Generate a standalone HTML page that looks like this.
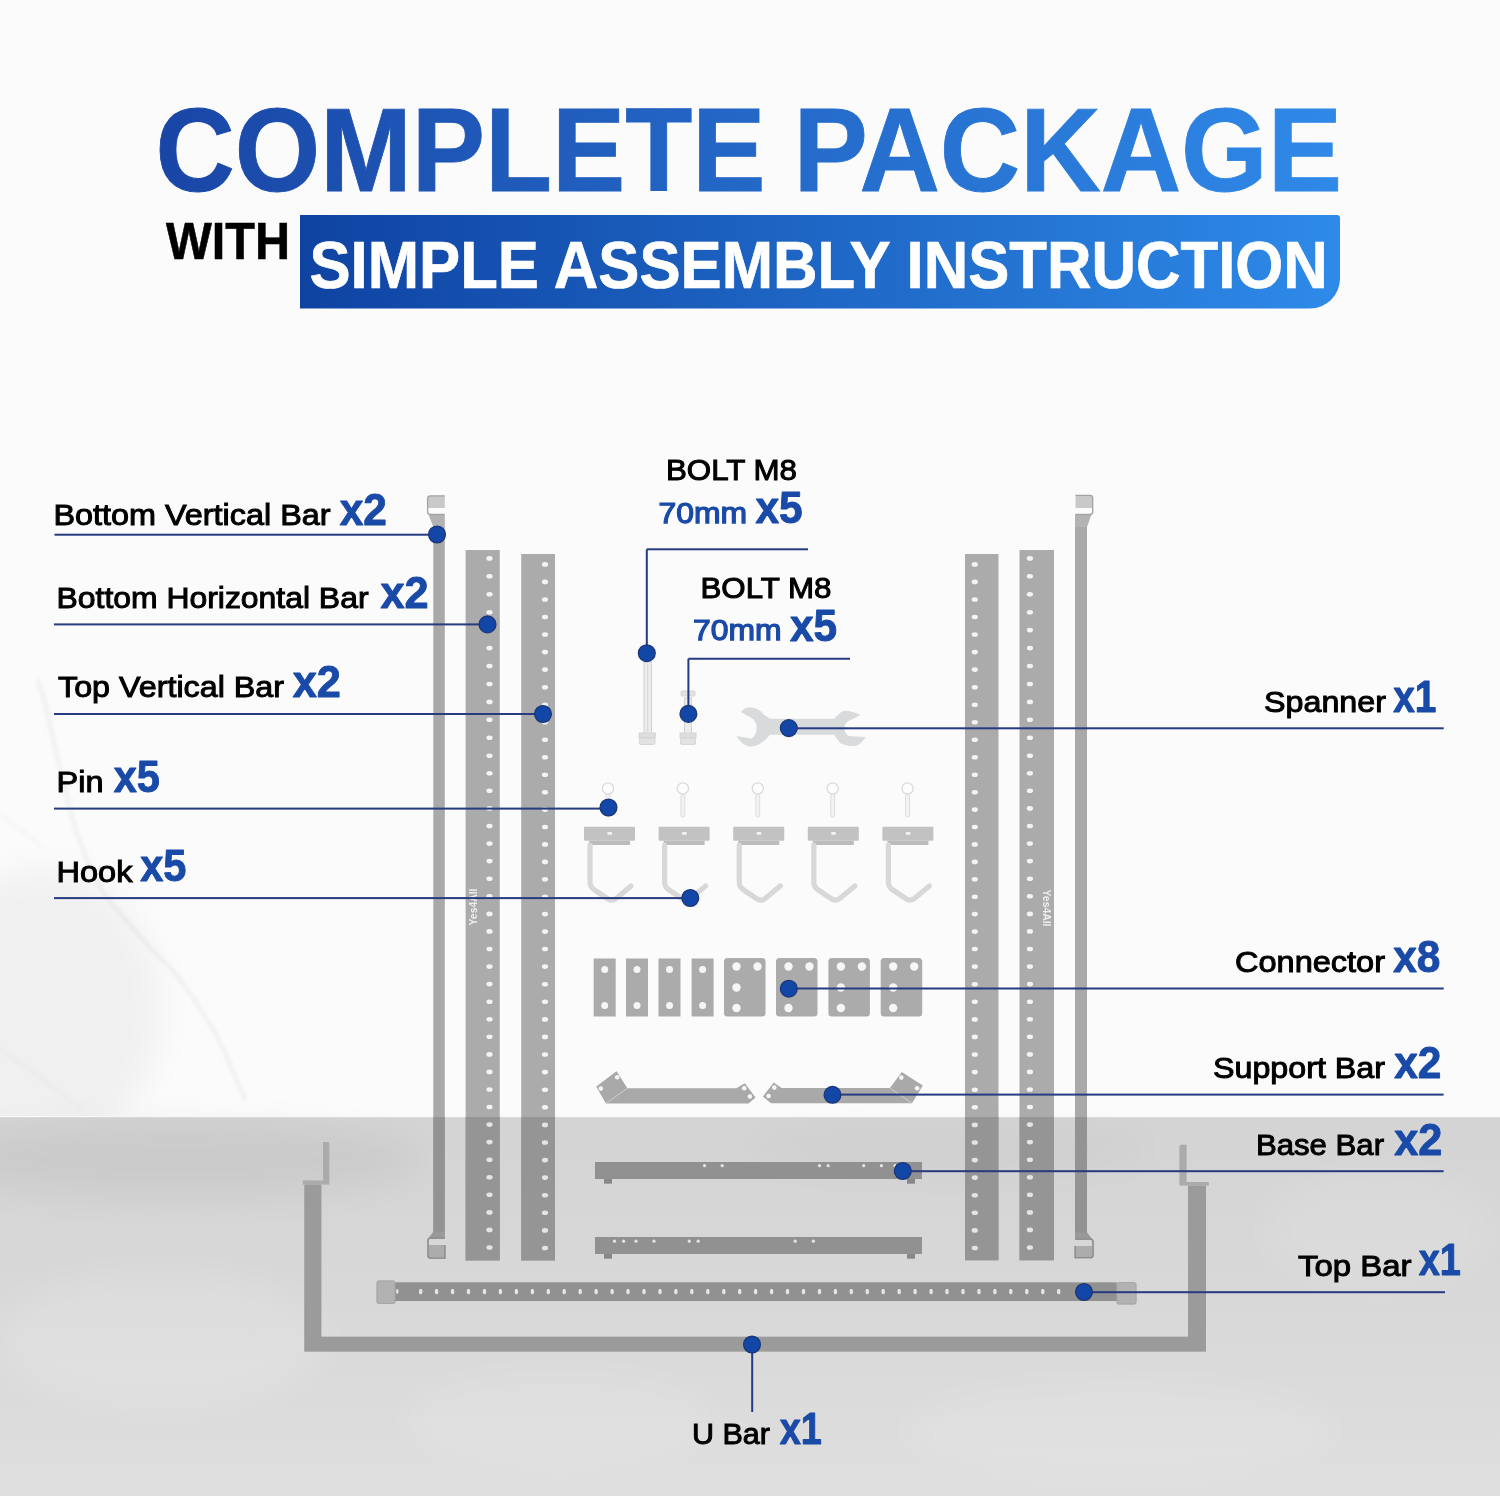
<!DOCTYPE html>
<html><head><meta charset="utf-8"><title>Complete Package</title>
<style>html,body{margin:0;padding:0;background:#fbfbfb;overflow:hidden;}svg{display:block;}text{font-family:"Liberation Sans",sans-serif;}</style>
</head><body>
<svg width="1500" height="1496" viewBox="0 0 1500 1496">
<defs>
<linearGradient id="tg" x1="158" y1="0" x2="1338" y2="0" gradientUnits="userSpaceOnUse">
<stop offset="0" stop-color="#1946a6"/><stop offset="1" stop-color="#2f89e8"/></linearGradient>
<linearGradient id="bg" x1="300" y1="0" x2="1340" y2="0" gradientUnits="userSpaceOnUse">
<stop offset="0" stop-color="#0f43a2"/><stop offset="1" stop-color="#2e8ae8"/></linearGradient>
<radialGradient id="vig" cx="0.25" cy="0.6" r="0.75"><stop offset="0" stop-color="#000" stop-opacity="0.035"/><stop offset="1" stop-color="#000" stop-opacity="0"/></radialGradient>
<linearGradient id="bandg" x1="0" y1="1117" x2="0" y2="1496" gradientUnits="userSpaceOnUse"><stop offset="0" stop-color="#d4d4d4"/><stop offset="0.5" stop-color="#d8d8d8"/><stop offset="1" stop-color="#dfdfdf"/></linearGradient>
<clipPath id="bandclip"><rect x="0" y="1117" width="1500" height="379"/></clipPath>
<filter id="darken" color-interpolation-filters="sRGB"><feColorMatrix type="matrix" values="0.87 0 0 0 0 0 0.87 0 0 0 0 0 0.87 0 0 0 0 0 1 0"/></filter>
<filter id="blurL" x="-50%" y="-50%" width="200%" height="200%"><feGaussianBlur stdDeviation="16"/></filter>
<filter id="blurS" x="-50%" y="-50%" width="200%" height="200%"><feGaussianBlur stdDeviation="2.2"/></filter>
</defs>
<rect x="0" y="0" width="1500" height="1117" fill="#fbfbfb"/>
<g filter="url(#blurL)" fill="#000"><ellipse cx="40" cy="1010" rx="120" ry="140" opacity="0.045"/></g>
<g filter="url(#blurS)" stroke="#000" fill="none" stroke-linecap="round"><path d="M38 680 C45 700 47 710 49 720 C60 770 70 810 76 830 C90 870 100 890 110 902 C135 930 150 950 170 967 C190 990 200 1010 212 1027 C225 1050 235 1075 245 1100" stroke-width="2.2" opacity="0.085"/><path d="M0 815 C15 825 30 835 40 846" stroke-width="1.8" opacity="0.05"/><path d="M0 1050 C30 1070 60 1090 80 1110" stroke-width="1.8" opacity="0.04"/></g>
<text x="155.6" y="191" font-family="Liberation Sans" font-weight="bold" font-size="118.6" fill="url(#tg)" stroke="url(#tg)" stroke-width="0.9" textLength="609.8" lengthAdjust="spacingAndGlyphs">COMPLETE</text>
<text x="793.4" y="191" font-family="Liberation Sans" font-weight="bold" font-size="118.6" fill="url(#tg)" stroke="url(#tg)" stroke-width="0.9" textLength="548.6" lengthAdjust="spacingAndGlyphs">PACKAGE</text>
<text x="166" y="259" font-family="Liberation Sans" font-weight="bold" font-size="52.5" fill="#000" stroke="#000" stroke-width="0.6" textLength="124" lengthAdjust="spacingAndGlyphs">WITH</text>
<path d="M300 215 H1337 Q1340 215 1340 218 V278.5 A30 30 0 0 1 1310 308.5 H300 Z" fill="url(#bg)"/>
<text x="309.5" y="287.7" font-family="Liberation Sans" font-weight="bold" font-size="66.6" fill="#fff" stroke="#fff" stroke-width="0.7" textLength="1018.3" lengthAdjust="spacingAndGlyphs">SIMPLE ASSEMBLY INSTRUCTION</text>
<rect x="0" y="1117" width="1500" height="379" fill="url(#bandg)"/>
<rect x="0" y="1115.8" width="1500" height="1.4" fill="#fbfbfb"/>
<g filter="url(#blurL)"><ellipse cx="180" cy="1160" rx="240" ry="38" fill="#000" opacity="0.045"/><ellipse cx="950" cy="1150" rx="200" ry="25" fill="#000" opacity="0.02"/><ellipse cx="160" cy="1340" rx="170" ry="70" fill="#fff" opacity="0.14"/><ellipse cx="560" cy="1420" rx="160" ry="50" fill="#fff" opacity="0.10"/><ellipse cx="1120" cy="1430" rx="220" ry="50" fill="#fff" opacity="0.10"/><ellipse cx="1380" cy="1230" rx="120" ry="60" fill="#fff" opacity="0.10"/></g>
<rect x="0" y="1117" width="1500" height="379" fill="none"/>
<g id="parts">
<rect x="465.6" y="550" width="34.19999999999999" height="710.5" fill="#ababab"/>
<rect x="521.2" y="554" width="33.799999999999955" height="706.5" fill="#ababab"/>
<rect x="965" y="554" width="33.5" height="706.3" fill="#ababab"/>
<rect x="1019.5" y="550" width="34.5" height="710.3" fill="#ababab"/>
<text transform="translate(476.7 907) rotate(-90)" x="-18.5" y="0" font-family="Liberation Sans" font-weight="bold" font-size="11" fill="#eeeeee" textLength="37" lengthAdjust="spacingAndGlyphs">Yes4All</text>
<text transform="translate(1042.8 908) rotate(90)" x="-18.5" y="0" font-family="Liberation Sans" font-weight="bold" font-size="11" fill="#eeeeee" textLength="37" lengthAdjust="spacingAndGlyphs">Yes4All</text>
<rect x="433.3" y="526" width="11.5" height="706" fill="#a9a9a9"/>
<rect x="1075" y="526" width="12" height="707" fill="#a9a9a9"/>
<path d="M428.5 514.5 H444.8 V527 H433.3 Z" fill="#b3b3b3"/>
<rect x="428" y="496" width="16.8" height="12" fill="#c9c9c9"/>
<path d="M444.8 495.8 H430.3 Q427.6 495.8 427.6 498.5 V511.8 Q427.6 514.5 430.3 514.5 H444.5" fill="none" stroke="#a3a3a3" stroke-width="1.3"/>
<path d="M1091.5 514.5 H1075 V527 H1087 Z" fill="#b3b3b3"/>
<rect x="1075.5" y="495.5" width="17" height="12.5" fill="#c9c9c9"/>
<path d="M1075.5 495.3 H1090 Q1092.7 495.3 1092.7 498 V511.8 Q1092.7 514.5 1090 514.5 H1075.5" fill="none" stroke="#a3a3a3" stroke-width="1.3"/>
<path d="M433.7 1231.5 H444.9 V1238 H428.5 Z" fill="#b0b0b0"/>
<rect x="428.5" y="1245" width="16.4" height="12.5" fill="#c6c6c6"/>
<path d="M444.9 1238.2 H430.5 Q428 1238.2 428 1240.7 V1255.5 Q428 1258.2 430.7 1258.2 H444.9 V1245" fill="none" stroke="#a0a0a0" stroke-width="1.3"/>
<path d="M1087 1232.5 H1075 V1239 H1092 Z" fill="#b0b0b0"/>
<rect x="1075.2" y="1246" width="17.5" height="11.5" fill="#c6c6c6"/>
<path d="M1075.2 1239.2 H1090.3 Q1093 1239.2 1093 1241.9 V1255 Q1093 1257.7 1090.3 1257.7 H1075.2 V1246" fill="none" stroke="#a0a0a0" stroke-width="1.3"/>
<rect x="644" y="662" width="7.5" height="72" fill="#ececec" stroke="#d2d2d2" stroke-width="1"/>
<line x1="647.7" y1="664" x2="647.7" y2="732" stroke="#d6d6d6" stroke-width="1"/>
<rect x="639" y="733" width="16.5" height="5" fill="#dedede" stroke="#d0d0d0" stroke-width="0.8"/>
<rect x="639.5" y="738" width="15.5" height="6.5" rx="1.5" fill="#e2e2e2" stroke="#d0d0d0" stroke-width="0.8"/>
<rect x="684.5" y="698" width="7" height="36" fill="#ececec" stroke="#d2d2d2" stroke-width="1"/>
<rect x="681" y="691" width="14" height="5" rx="1" fill="#e2e2e2" stroke="#d0d0d0" stroke-width="0.8"/>
<rect x="680" y="733" width="16" height="5" fill="#dedede" stroke="#d0d0d0" stroke-width="0.8"/>
<rect x="680.5" y="738" width="15" height="6.5" rx="1.5" fill="#e2e2e2" stroke="#d0d0d0" stroke-width="0.8"/>
<path d="M740.8 711.9 C744 708 748 707 752 707.6 C757 708 761 711 763 714 L770 718.8 H834 L840 713 C842 711.5 844 711 846 710.8 C851 711 856 713 860.8 715 L848.5 721 C843 724 843 732 848.5 736 L865.6 737 C862 743 858 746 854.4 746 C849 746.5 844 745 840.5 743.3 L834 734.8 H770 C766 740 760 745 752 746.5 C746 747 740 742 736.5 735.9 L751.5 738.5 C758.5 734 758.5 722 751.5 718 Z" fill="#d9dadc"/>
<circle cx="608.0" cy="788.5" r="5.6" fill="#fdfdfd" stroke="#d9d9d9" stroke-width="1.2"/>
<rect x="606.1" y="794.5" width="3.8" height="22.5" rx="1.5" fill="#f3f3f3" stroke="#d9d9d9" stroke-width="0.9"/>
<rect x="584.0" y="826.7" width="51" height="14" rx="1" fill="#c2c2c2"/>
<rect x="607.5" y="832" width="4.5" height="2.8" fill="#f2f2f2"/>
<rect x="589.0" y="840.7" width="41" height="4.3" fill="#bcbcbc"/>
<path d="M590.0 845 V882 Q590.0 887 594.5 890 L608.0 899 Q612.0 901.5 616.0 898.5 L631.0 886" fill="none" stroke="#d8d8d8" stroke-width="5.2" stroke-linejoin="round" stroke-linecap="round"/>
<circle cx="682.9" cy="788.5" r="5.6" fill="#fdfdfd" stroke="#d9d9d9" stroke-width="1.2"/>
<rect x="681.0" y="794.5" width="3.8" height="22.5" rx="1.5" fill="#f3f3f3" stroke="#d9d9d9" stroke-width="0.9"/>
<rect x="658.6" y="826.7" width="51" height="14" rx="1" fill="#c2c2c2"/>
<rect x="682.1" y="832" width="4.5" height="2.8" fill="#f2f2f2"/>
<rect x="663.6" y="840.7" width="41" height="4.3" fill="#bcbcbc"/>
<path d="M664.6 845 V882 Q664.6 887 669.1 890 L682.6 899 Q686.6 901.5 690.6 898.5 L705.6 886" fill="none" stroke="#d8d8d8" stroke-width="5.2" stroke-linejoin="round" stroke-linecap="round"/>
<circle cx="757.8" cy="788.5" r="5.6" fill="#fdfdfd" stroke="#d9d9d9" stroke-width="1.2"/>
<rect x="755.9" y="794.5" width="3.8" height="22.5" rx="1.5" fill="#f3f3f3" stroke="#d9d9d9" stroke-width="0.9"/>
<rect x="733.2" y="826.7" width="51" height="14" rx="1" fill="#c2c2c2"/>
<rect x="756.7" y="832" width="4.5" height="2.8" fill="#f2f2f2"/>
<rect x="738.2" y="840.7" width="41" height="4.3" fill="#bcbcbc"/>
<path d="M739.2 845 V882 Q739.2 887 743.7 890 L757.2 899 Q761.2 901.5 765.2 898.5 L780.2 886" fill="none" stroke="#d8d8d8" stroke-width="5.2" stroke-linejoin="round" stroke-linecap="round"/>
<circle cx="832.7" cy="788.5" r="5.6" fill="#fdfdfd" stroke="#d9d9d9" stroke-width="1.2"/>
<rect x="830.8" y="794.5" width="3.8" height="22.5" rx="1.5" fill="#f3f3f3" stroke="#d9d9d9" stroke-width="0.9"/>
<rect x="807.8" y="826.7" width="51" height="14" rx="1" fill="#c2c2c2"/>
<rect x="831.3" y="832" width="4.5" height="2.8" fill="#f2f2f2"/>
<rect x="812.8" y="840.7" width="41" height="4.3" fill="#bcbcbc"/>
<path d="M813.8 845 V882 Q813.8 887 818.3 890 L831.8 899 Q835.8 901.5 839.8 898.5 L854.8 886" fill="none" stroke="#d8d8d8" stroke-width="5.2" stroke-linejoin="round" stroke-linecap="round"/>
<circle cx="907.6" cy="788.5" r="5.6" fill="#fdfdfd" stroke="#d9d9d9" stroke-width="1.2"/>
<rect x="905.7" y="794.5" width="3.8" height="22.5" rx="1.5" fill="#f3f3f3" stroke="#d9d9d9" stroke-width="0.9"/>
<rect x="882.4" y="826.7" width="51" height="14" rx="1" fill="#c2c2c2"/>
<rect x="905.9" y="832" width="4.5" height="2.8" fill="#f2f2f2"/>
<rect x="887.4" y="840.7" width="41" height="4.3" fill="#bcbcbc"/>
<path d="M888.4 845 V882 Q888.4 887 892.9 890 L906.4 899 Q910.4 901.5 914.4 898.5 L929.4 886" fill="none" stroke="#d8d8d8" stroke-width="5.2" stroke-linejoin="round" stroke-linecap="round"/>
<rect x="593.7" y="958.5" width="22" height="58" fill="#ababab"/>
<circle cx="604.7" cy="969.5" r="3.5" fill="#f6f6f6"/><circle cx="604.7" cy="1005.5" r="3.5" fill="#f6f6f6"/>
<rect x="626" y="958.5" width="22" height="58" fill="#ababab"/>
<circle cx="637" cy="969.5" r="3.5" fill="#f6f6f6"/><circle cx="637" cy="1005.5" r="3.5" fill="#f6f6f6"/>
<rect x="658.5" y="958.5" width="22" height="58" fill="#ababab"/>
<circle cx="669.5" cy="969.5" r="3.5" fill="#f6f6f6"/><circle cx="669.5" cy="1005.5" r="3.5" fill="#f6f6f6"/>
<rect x="691.6" y="958.5" width="22" height="58" fill="#ababab"/>
<circle cx="702.6" cy="969.5" r="3.5" fill="#f6f6f6"/><circle cx="702.6" cy="1005.5" r="3.5" fill="#f6f6f6"/>
<rect x="724" y="958" width="41.5" height="58.5" rx="3.5" fill="#ababab"/>
<circle cx="736.5" cy="966.5" r="4.2" fill="#f6f6f6"/>
<circle cx="757.5" cy="966.5" r="4.2" fill="#f6f6f6"/>
<circle cx="736.5" cy="987.5" r="4.2" fill="#f6f6f6"/>
<circle cx="736.5" cy="1008" r="4.2" fill="#f6f6f6"/>
<rect x="776" y="958" width="41.5" height="58.5" rx="3.5" fill="#ababab"/>
<circle cx="788.5" cy="966.5" r="4.2" fill="#f6f6f6"/>
<circle cx="809.5" cy="966.5" r="4.2" fill="#f6f6f6"/>
<circle cx="788.5" cy="987.5" r="4.2" fill="#f6f6f6"/>
<circle cx="788.5" cy="1008" r="4.2" fill="#f6f6f6"/>
<rect x="828.4" y="958" width="41.5" height="58.5" rx="3.5" fill="#ababab"/>
<circle cx="840.9" cy="966.5" r="4.2" fill="#f6f6f6"/>
<circle cx="861.9" cy="966.5" r="4.2" fill="#f6f6f6"/>
<circle cx="840.9" cy="987.5" r="4.2" fill="#f6f6f6"/>
<circle cx="840.9" cy="1008" r="4.2" fill="#f6f6f6"/>
<rect x="880.7" y="958" width="41.5" height="58.5" rx="3.5" fill="#ababab"/>
<circle cx="893.2" cy="966.5" r="4.2" fill="#f6f6f6"/>
<circle cx="914.2" cy="966.5" r="4.2" fill="#f6f6f6"/>
<circle cx="893.2" cy="987.5" r="4.2" fill="#f6f6f6"/>
<circle cx="893.2" cy="1008" r="4.2" fill="#f6f6f6"/>
<path d="M605.9 1103.4 L596.2 1086.6 L616.6 1071.3 L627.4 1088.3 H736.3 L744.8 1083.2 L755.5 1097.4 L748.7 1103.4 Z" fill="#a9a9a9"/>
<path d="M605.9 1103.4 L627.4 1088.3" stroke="#d0d0d0" stroke-width="1"/>
<circle cx="600.8" cy="1088.6" r="2.3" fill="#f6f6f6"/>
<circle cx="617.2" cy="1077.2" r="2.3" fill="#f6f6f6"/>
<circle cx="744.2" cy="1088.3" r="2.3" fill="#f6f6f6"/>
<circle cx="749.9" cy="1096.5" r="2.3" fill="#f6f6f6"/>
<path d="M770.9 1103.3 L762.9 1096.5 L773.7 1082.4 L781.6 1088.1 H889.9 L901.8 1071.9 L922.8 1085.5 L912 1103.3 Z" fill="#a9a9a9"/>
<path d="M889.9 1088.1 L912 1103.3" stroke="#d0d0d0" stroke-width="1"/>
<circle cx="774.3" cy="1087.6" r="2.3" fill="#f6f6f6"/>
<circle cx="768.6" cy="1096" r="2.3" fill="#f6f6f6"/>
<circle cx="901.3" cy="1077.6" r="2.3" fill="#f6f6f6"/>
<circle cx="917.1" cy="1088.3" r="2.3" fill="#f6f6f6"/>
<rect x="595" y="1162" width="327" height="17" fill="#a7a7a7"/>
<rect x="604" y="1179" width="8" height="4.5" fill="#9c9c9c"/><rect x="907" y="1179" width="8" height="4.5" fill="#9c9c9c"/>
<rect x="595" y="1237" width="327" height="17" fill="#a7a7a7"/>
<rect x="604" y="1254" width="8" height="4.5" fill="#9c9c9c"/><rect x="907" y="1254" width="8" height="4.5" fill="#9c9c9c"/>
<path d="M395 1282.5 H1116.7 V1301 H395 Z" fill="#a7a7a7"/>
<rect x="377" y="1281" width="18" height="22.4" rx="1.5" fill="#cdcdcd" stroke="#bdbdbd" stroke-width="1"/><rect x="1117" y="1282.7" width="19" height="21.3" rx="1.5" fill="#cdcdcd" stroke="#bdbdbd" stroke-width="1"/>
<path d="M304.4 1184.6 H321.3 V1336.8 H1188 V1185.5 H1206 V1351.5 H304.4 Z" fill="#b2b2b2"/>
<path d="M302.8 1184.6 H329.3 V1144 Q329.3 1142 327.3 1142 H323 V1180.6 H302.8 Z" fill="#c4c4c4"/>
<path d="M1208.8 1185.5 H1179.5 V1146.7 Q1179.5 1144.7 1181.5 1144.7 H1186.5 V1182 H1208.8 Z" fill="#c4c4c4"/>
</g>
<use href="#parts" clip-path="url(#bandclip)" filter="url(#darken)"/>
<g fill="#f4f4f4"><ellipse cx="489.5" cy="558.4" rx="3.1" ry="2.3"/><ellipse cx="489.5" cy="576.3" rx="3.1" ry="2.3"/><ellipse cx="489.5" cy="594.3" rx="3.1" ry="2.3"/><ellipse cx="489.5" cy="612.2" rx="3.1" ry="2.3"/><ellipse cx="489.5" cy="630.1" rx="3.1" ry="2.3"/><ellipse cx="489.5" cy="648.1" rx="3.1" ry="2.3"/><ellipse cx="489.5" cy="666.0" rx="3.1" ry="2.3"/><ellipse cx="489.5" cy="684.0" rx="3.1" ry="2.3"/><ellipse cx="489.5" cy="701.9" rx="3.1" ry="2.3"/><ellipse cx="489.5" cy="719.8" rx="3.1" ry="2.3"/><ellipse cx="489.5" cy="737.8" rx="3.1" ry="2.3"/><ellipse cx="489.5" cy="755.7" rx="3.1" ry="2.3"/><ellipse cx="489.5" cy="773.3" rx="3.1" ry="2.3"/><ellipse cx="489.5" cy="790.8" rx="3.1" ry="2.3"/><ellipse cx="489.5" cy="808.4" rx="3.1" ry="2.3"/><ellipse cx="489.5" cy="826.0" rx="3.1" ry="2.3"/><ellipse cx="489.5" cy="843.6" rx="3.1" ry="2.3"/><ellipse cx="489.5" cy="861.1" rx="3.1" ry="2.3"/><ellipse cx="489.5" cy="878.7" rx="3.1" ry="2.3"/><ellipse cx="489.5" cy="896.3" rx="3.1" ry="2.3"/><ellipse cx="489.5" cy="913.9" rx="3.1" ry="2.3"/><ellipse cx="489.5" cy="931.4" rx="3.1" ry="2.3"/><ellipse cx="489.5" cy="949.0" rx="3.1" ry="2.3"/><ellipse cx="489.5" cy="966.6" rx="3.1" ry="2.3"/><ellipse cx="489.5" cy="984.1" rx="3.1" ry="2.3"/><ellipse cx="489.5" cy="1001.7" rx="3.1" ry="2.3"/><ellipse cx="489.5" cy="1019.2" rx="3.1" ry="2.3"/><ellipse cx="489.5" cy="1036.8" rx="3.1" ry="2.3"/><ellipse cx="489.5" cy="1054.4" rx="3.1" ry="2.3"/><ellipse cx="489.5" cy="1071.9" rx="3.1" ry="2.3"/><ellipse cx="489.5" cy="1089.5" rx="3.1" ry="2.3"/><ellipse cx="489.5" cy="1107.0" rx="3.1" ry="2.3"/><ellipse cx="489.5" cy="1124.6" rx="3.1" ry="2.3"/><ellipse cx="489.5" cy="1142.1" rx="3.1" ry="2.3"/><ellipse cx="489.5" cy="1159.7" rx="3.1" ry="2.3"/><ellipse cx="489.5" cy="1177.3" rx="3.1" ry="2.3"/><ellipse cx="489.5" cy="1194.8" rx="3.1" ry="2.3"/><ellipse cx="489.5" cy="1212.4" rx="3.1" ry="2.3"/><ellipse cx="489.5" cy="1229.9" rx="3.1" ry="2.3"/><ellipse cx="489.5" cy="1247.5" rx="3.1" ry="2.3"/><ellipse cx="545" cy="564.4" rx="3.1" ry="2.3"/><ellipse cx="545" cy="581.9" rx="3.1" ry="2.3"/><ellipse cx="545" cy="599.5" rx="3.1" ry="2.3"/><ellipse cx="545" cy="617.0" rx="3.1" ry="2.3"/><ellipse cx="545" cy="634.5" rx="3.1" ry="2.3"/><ellipse cx="545" cy="652.1" rx="3.1" ry="2.3"/><ellipse cx="545" cy="669.6" rx="3.1" ry="2.3"/><ellipse cx="545" cy="687.2" rx="3.1" ry="2.3"/><ellipse cx="545" cy="704.7" rx="3.1" ry="2.3"/><ellipse cx="545" cy="722.2" rx="3.1" ry="2.3"/><ellipse cx="545" cy="739.8" rx="3.1" ry="2.3"/><ellipse cx="545" cy="757.3" rx="3.1" ry="2.3"/><ellipse cx="545" cy="774.7" rx="3.1" ry="2.3"/><ellipse cx="545" cy="792.2" rx="3.1" ry="2.3"/><ellipse cx="545" cy="809.6" rx="3.1" ry="2.3"/><ellipse cx="545" cy="827.0" rx="3.1" ry="2.3"/><ellipse cx="545" cy="844.4" rx="3.1" ry="2.3"/><ellipse cx="545" cy="861.9" rx="3.1" ry="2.3"/><ellipse cx="545" cy="879.3" rx="3.1" ry="2.3"/><ellipse cx="545" cy="896.7" rx="3.1" ry="2.3"/><ellipse cx="545" cy="914.1" rx="3.1" ry="2.3"/><ellipse cx="545" cy="931.6" rx="3.1" ry="2.3"/><ellipse cx="545" cy="949.0" rx="3.1" ry="2.3"/><ellipse cx="545" cy="966.6" rx="3.1" ry="2.3"/><ellipse cx="545" cy="984.2" rx="3.1" ry="2.3"/><ellipse cx="545" cy="1001.8" rx="3.1" ry="2.3"/><ellipse cx="545" cy="1019.4" rx="3.1" ry="2.3"/><ellipse cx="545" cy="1036.9" rx="3.1" ry="2.3"/><ellipse cx="545" cy="1054.5" rx="3.1" ry="2.3"/><ellipse cx="545" cy="1072.1" rx="3.1" ry="2.3"/><ellipse cx="545" cy="1089.7" rx="3.1" ry="2.3"/><ellipse cx="545" cy="1107.3" rx="3.1" ry="2.3"/><ellipse cx="545" cy="1124.9" rx="3.1" ry="2.3"/><ellipse cx="545" cy="1142.5" rx="3.1" ry="2.3"/><ellipse cx="545" cy="1160.1" rx="3.1" ry="2.3"/><ellipse cx="545" cy="1177.6" rx="3.1" ry="2.3"/><ellipse cx="545" cy="1195.2" rx="3.1" ry="2.3"/><ellipse cx="545" cy="1212.8" rx="3.1" ry="2.3"/><ellipse cx="545" cy="1230.4" rx="3.1" ry="2.3"/><ellipse cx="545" cy="1248.0" rx="3.1" ry="2.3"/><ellipse cx="974.8" cy="564.4" rx="3.1" ry="2.3"/><ellipse cx="974.8" cy="581.9" rx="3.1" ry="2.3"/><ellipse cx="974.8" cy="599.5" rx="3.1" ry="2.3"/><ellipse cx="974.8" cy="617.0" rx="3.1" ry="2.3"/><ellipse cx="974.8" cy="634.5" rx="3.1" ry="2.3"/><ellipse cx="974.8" cy="652.1" rx="3.1" ry="2.3"/><ellipse cx="974.8" cy="669.6" rx="3.1" ry="2.3"/><ellipse cx="974.8" cy="687.2" rx="3.1" ry="2.3"/><ellipse cx="974.8" cy="704.7" rx="3.1" ry="2.3"/><ellipse cx="974.8" cy="722.2" rx="3.1" ry="2.3"/><ellipse cx="974.8" cy="739.8" rx="3.1" ry="2.3"/><ellipse cx="974.8" cy="757.3" rx="3.1" ry="2.3"/><ellipse cx="974.8" cy="774.7" rx="3.1" ry="2.3"/><ellipse cx="974.8" cy="792.2" rx="3.1" ry="2.3"/><ellipse cx="974.8" cy="809.6" rx="3.1" ry="2.3"/><ellipse cx="974.8" cy="827.0" rx="3.1" ry="2.3"/><ellipse cx="974.8" cy="844.4" rx="3.1" ry="2.3"/><ellipse cx="974.8" cy="861.9" rx="3.1" ry="2.3"/><ellipse cx="974.8" cy="879.3" rx="3.1" ry="2.3"/><ellipse cx="974.8" cy="896.7" rx="3.1" ry="2.3"/><ellipse cx="974.8" cy="914.1" rx="3.1" ry="2.3"/><ellipse cx="974.8" cy="931.6" rx="3.1" ry="2.3"/><ellipse cx="974.8" cy="949.0" rx="3.1" ry="2.3"/><ellipse cx="974.8" cy="966.6" rx="3.1" ry="2.3"/><ellipse cx="974.8" cy="984.2" rx="3.1" ry="2.3"/><ellipse cx="974.8" cy="1001.8" rx="3.1" ry="2.3"/><ellipse cx="974.8" cy="1019.4" rx="3.1" ry="2.3"/><ellipse cx="974.8" cy="1036.9" rx="3.1" ry="2.3"/><ellipse cx="974.8" cy="1054.5" rx="3.1" ry="2.3"/><ellipse cx="974.8" cy="1072.1" rx="3.1" ry="2.3"/><ellipse cx="974.8" cy="1089.7" rx="3.1" ry="2.3"/><ellipse cx="974.8" cy="1107.3" rx="3.1" ry="2.3"/><ellipse cx="974.8" cy="1124.9" rx="3.1" ry="2.3"/><ellipse cx="974.8" cy="1142.5" rx="3.1" ry="2.3"/><ellipse cx="974.8" cy="1160.1" rx="3.1" ry="2.3"/><ellipse cx="974.8" cy="1177.6" rx="3.1" ry="2.3"/><ellipse cx="974.8" cy="1195.2" rx="3.1" ry="2.3"/><ellipse cx="974.8" cy="1212.8" rx="3.1" ry="2.3"/><ellipse cx="974.8" cy="1230.4" rx="3.1" ry="2.3"/><ellipse cx="974.8" cy="1248.0" rx="3.1" ry="2.3"/><ellipse cx="1029.9" cy="558.4" rx="3.1" ry="2.3"/><ellipse cx="1029.9" cy="576.3" rx="3.1" ry="2.3"/><ellipse cx="1029.9" cy="594.3" rx="3.1" ry="2.3"/><ellipse cx="1029.9" cy="612.2" rx="3.1" ry="2.3"/><ellipse cx="1029.9" cy="630.1" rx="3.1" ry="2.3"/><ellipse cx="1029.9" cy="648.1" rx="3.1" ry="2.3"/><ellipse cx="1029.9" cy="666.0" rx="3.1" ry="2.3"/><ellipse cx="1029.9" cy="684.0" rx="3.1" ry="2.3"/><ellipse cx="1029.9" cy="701.9" rx="3.1" ry="2.3"/><ellipse cx="1029.9" cy="719.8" rx="3.1" ry="2.3"/><ellipse cx="1029.9" cy="737.8" rx="3.1" ry="2.3"/><ellipse cx="1029.9" cy="755.7" rx="3.1" ry="2.3"/><ellipse cx="1029.9" cy="773.3" rx="3.1" ry="2.3"/><ellipse cx="1029.9" cy="790.8" rx="3.1" ry="2.3"/><ellipse cx="1029.9" cy="808.4" rx="3.1" ry="2.3"/><ellipse cx="1029.9" cy="826.0" rx="3.1" ry="2.3"/><ellipse cx="1029.9" cy="843.6" rx="3.1" ry="2.3"/><ellipse cx="1029.9" cy="861.1" rx="3.1" ry="2.3"/><ellipse cx="1029.9" cy="878.7" rx="3.1" ry="2.3"/><ellipse cx="1029.9" cy="896.3" rx="3.1" ry="2.3"/><ellipse cx="1029.9" cy="913.9" rx="3.1" ry="2.3"/><ellipse cx="1029.9" cy="931.4" rx="3.1" ry="2.3"/><ellipse cx="1029.9" cy="949.0" rx="3.1" ry="2.3"/><ellipse cx="1029.9" cy="966.6" rx="3.1" ry="2.3"/><ellipse cx="1029.9" cy="984.1" rx="3.1" ry="2.3"/><ellipse cx="1029.9" cy="1001.7" rx="3.1" ry="2.3"/><ellipse cx="1029.9" cy="1019.2" rx="3.1" ry="2.3"/><ellipse cx="1029.9" cy="1036.8" rx="3.1" ry="2.3"/><ellipse cx="1029.9" cy="1054.4" rx="3.1" ry="2.3"/><ellipse cx="1029.9" cy="1071.9" rx="3.1" ry="2.3"/><ellipse cx="1029.9" cy="1089.5" rx="3.1" ry="2.3"/><ellipse cx="1029.9" cy="1107.0" rx="3.1" ry="2.3"/><ellipse cx="1029.9" cy="1124.6" rx="3.1" ry="2.3"/><ellipse cx="1029.9" cy="1142.1" rx="3.1" ry="2.3"/><ellipse cx="1029.9" cy="1159.7" rx="3.1" ry="2.3"/><ellipse cx="1029.9" cy="1177.3" rx="3.1" ry="2.3"/><ellipse cx="1029.9" cy="1194.8" rx="3.1" ry="2.3"/><ellipse cx="1029.9" cy="1212.4" rx="3.1" ry="2.3"/><ellipse cx="1029.9" cy="1229.9" rx="3.1" ry="2.3"/><ellipse cx="1029.9" cy="1247.5" rx="3.1" ry="2.3"/><circle cx="704.5" cy="1165.7" r="1.6"/><circle cx="722.2" cy="1165.7" r="1.6"/><circle cx="819.5" cy="1165.7" r="1.6"/><circle cx="828.1" cy="1165.7" r="1.6"/><circle cx="863.7" cy="1165.7" r="1.6"/><circle cx="881.4" cy="1165.7" r="1.6"/><circle cx="895" cy="1165.7" r="1.6"/><circle cx="614.5" cy="1241.2" r="1.6"/><circle cx="623.6" cy="1241.2" r="1.6"/><circle cx="636" cy="1241.2" r="1.6"/><circle cx="654" cy="1241.2" r="1.6"/><circle cx="689.3" cy="1241.2" r="1.6"/><circle cx="698.2" cy="1241.2" r="1.6"/><circle cx="795.2" cy="1241.2" r="1.6"/><circle cx="813.4" cy="1241.2" r="1.6"/><ellipse cx="397.3" cy="1291.5" rx="1.2" ry="2.4"/><ellipse cx="420.7" cy="1291.5" rx="1.8" ry="2.8"/><ellipse cx="436.6" cy="1291.5" rx="1.8" ry="2.8"/><ellipse cx="452.6" cy="1291.5" rx="1.8" ry="2.8"/><ellipse cx="468.5" cy="1291.5" rx="1.8" ry="2.8"/><ellipse cx="484.5" cy="1291.5" rx="1.8" ry="2.8"/><ellipse cx="500.4" cy="1291.5" rx="1.8" ry="2.8"/><ellipse cx="516.4" cy="1291.5" rx="1.8" ry="2.8"/><ellipse cx="532.4" cy="1291.5" rx="1.8" ry="2.8"/><ellipse cx="548.3" cy="1291.5" rx="1.8" ry="2.8"/><ellipse cx="564.2" cy="1291.5" rx="1.8" ry="2.8"/><ellipse cx="580.2" cy="1291.5" rx="1.8" ry="2.8"/><ellipse cx="596.1" cy="1291.5" rx="1.8" ry="2.8"/><ellipse cx="612.1" cy="1291.5" rx="1.8" ry="2.8"/><ellipse cx="628.0" cy="1291.5" rx="1.8" ry="2.8"/><ellipse cx="644.0" cy="1291.5" rx="1.8" ry="2.8"/><ellipse cx="660.0" cy="1291.5" rx="1.8" ry="2.8"/><ellipse cx="675.9" cy="1291.5" rx="1.8" ry="2.8"/><ellipse cx="691.8" cy="1291.5" rx="1.8" ry="2.8"/><ellipse cx="707.8" cy="1291.5" rx="1.8" ry="2.8"/><ellipse cx="723.8" cy="1291.5" rx="1.8" ry="2.8"/><ellipse cx="739.7" cy="1291.5" rx="1.8" ry="2.8"/><ellipse cx="755.6" cy="1291.5" rx="1.8" ry="2.8"/><ellipse cx="771.6" cy="1291.5" rx="1.8" ry="2.8"/><ellipse cx="787.5" cy="1291.5" rx="1.8" ry="2.8"/><ellipse cx="803.5" cy="1291.5" rx="1.8" ry="2.8"/><ellipse cx="819.5" cy="1291.5" rx="1.8" ry="2.8"/><ellipse cx="835.4" cy="1291.5" rx="1.8" ry="2.8"/><ellipse cx="851.3" cy="1291.5" rx="1.8" ry="2.8"/><ellipse cx="867.3" cy="1291.5" rx="1.8" ry="2.8"/><ellipse cx="883.2" cy="1291.5" rx="1.8" ry="2.8"/><ellipse cx="899.2" cy="1291.5" rx="1.8" ry="2.8"/><ellipse cx="915.1" cy="1291.5" rx="1.8" ry="2.8"/><ellipse cx="931.1" cy="1291.5" rx="1.8" ry="2.8"/><ellipse cx="947.0" cy="1291.5" rx="1.8" ry="2.8"/><ellipse cx="963.0" cy="1291.5" rx="1.8" ry="2.8"/><ellipse cx="979.0" cy="1291.5" rx="1.8" ry="2.8"/><ellipse cx="994.9" cy="1291.5" rx="1.8" ry="2.8"/><ellipse cx="1010.8" cy="1291.5" rx="1.8" ry="2.8"/><ellipse cx="1026.8" cy="1291.5" rx="1.8" ry="2.8"/><ellipse cx="1042.8" cy="1291.5" rx="1.8" ry="2.8"/><ellipse cx="1058.7" cy="1291.5" rx="1.8" ry="2.8"/></g>
<g fill="#000" opacity="0.06" clip-path="url(#bandclip)"><ellipse cx="489.5" cy="558.4" rx="3.1" ry="2.3"/><ellipse cx="489.5" cy="576.3" rx="3.1" ry="2.3"/><ellipse cx="489.5" cy="594.3" rx="3.1" ry="2.3"/><ellipse cx="489.5" cy="612.2" rx="3.1" ry="2.3"/><ellipse cx="489.5" cy="630.1" rx="3.1" ry="2.3"/><ellipse cx="489.5" cy="648.1" rx="3.1" ry="2.3"/><ellipse cx="489.5" cy="666.0" rx="3.1" ry="2.3"/><ellipse cx="489.5" cy="684.0" rx="3.1" ry="2.3"/><ellipse cx="489.5" cy="701.9" rx="3.1" ry="2.3"/><ellipse cx="489.5" cy="719.8" rx="3.1" ry="2.3"/><ellipse cx="489.5" cy="737.8" rx="3.1" ry="2.3"/><ellipse cx="489.5" cy="755.7" rx="3.1" ry="2.3"/><ellipse cx="489.5" cy="773.3" rx="3.1" ry="2.3"/><ellipse cx="489.5" cy="790.8" rx="3.1" ry="2.3"/><ellipse cx="489.5" cy="808.4" rx="3.1" ry="2.3"/><ellipse cx="489.5" cy="826.0" rx="3.1" ry="2.3"/><ellipse cx="489.5" cy="843.6" rx="3.1" ry="2.3"/><ellipse cx="489.5" cy="861.1" rx="3.1" ry="2.3"/><ellipse cx="489.5" cy="878.7" rx="3.1" ry="2.3"/><ellipse cx="489.5" cy="896.3" rx="3.1" ry="2.3"/><ellipse cx="489.5" cy="913.9" rx="3.1" ry="2.3"/><ellipse cx="489.5" cy="931.4" rx="3.1" ry="2.3"/><ellipse cx="489.5" cy="949.0" rx="3.1" ry="2.3"/><ellipse cx="489.5" cy="966.6" rx="3.1" ry="2.3"/><ellipse cx="489.5" cy="984.1" rx="3.1" ry="2.3"/><ellipse cx="489.5" cy="1001.7" rx="3.1" ry="2.3"/><ellipse cx="489.5" cy="1019.2" rx="3.1" ry="2.3"/><ellipse cx="489.5" cy="1036.8" rx="3.1" ry="2.3"/><ellipse cx="489.5" cy="1054.4" rx="3.1" ry="2.3"/><ellipse cx="489.5" cy="1071.9" rx="3.1" ry="2.3"/><ellipse cx="489.5" cy="1089.5" rx="3.1" ry="2.3"/><ellipse cx="489.5" cy="1107.0" rx="3.1" ry="2.3"/><ellipse cx="489.5" cy="1124.6" rx="3.1" ry="2.3"/><ellipse cx="489.5" cy="1142.1" rx="3.1" ry="2.3"/><ellipse cx="489.5" cy="1159.7" rx="3.1" ry="2.3"/><ellipse cx="489.5" cy="1177.3" rx="3.1" ry="2.3"/><ellipse cx="489.5" cy="1194.8" rx="3.1" ry="2.3"/><ellipse cx="489.5" cy="1212.4" rx="3.1" ry="2.3"/><ellipse cx="489.5" cy="1229.9" rx="3.1" ry="2.3"/><ellipse cx="489.5" cy="1247.5" rx="3.1" ry="2.3"/><ellipse cx="545" cy="564.4" rx="3.1" ry="2.3"/><ellipse cx="545" cy="581.9" rx="3.1" ry="2.3"/><ellipse cx="545" cy="599.5" rx="3.1" ry="2.3"/><ellipse cx="545" cy="617.0" rx="3.1" ry="2.3"/><ellipse cx="545" cy="634.5" rx="3.1" ry="2.3"/><ellipse cx="545" cy="652.1" rx="3.1" ry="2.3"/><ellipse cx="545" cy="669.6" rx="3.1" ry="2.3"/><ellipse cx="545" cy="687.2" rx="3.1" ry="2.3"/><ellipse cx="545" cy="704.7" rx="3.1" ry="2.3"/><ellipse cx="545" cy="722.2" rx="3.1" ry="2.3"/><ellipse cx="545" cy="739.8" rx="3.1" ry="2.3"/><ellipse cx="545" cy="757.3" rx="3.1" ry="2.3"/><ellipse cx="545" cy="774.7" rx="3.1" ry="2.3"/><ellipse cx="545" cy="792.2" rx="3.1" ry="2.3"/><ellipse cx="545" cy="809.6" rx="3.1" ry="2.3"/><ellipse cx="545" cy="827.0" rx="3.1" ry="2.3"/><ellipse cx="545" cy="844.4" rx="3.1" ry="2.3"/><ellipse cx="545" cy="861.9" rx="3.1" ry="2.3"/><ellipse cx="545" cy="879.3" rx="3.1" ry="2.3"/><ellipse cx="545" cy="896.7" rx="3.1" ry="2.3"/><ellipse cx="545" cy="914.1" rx="3.1" ry="2.3"/><ellipse cx="545" cy="931.6" rx="3.1" ry="2.3"/><ellipse cx="545" cy="949.0" rx="3.1" ry="2.3"/><ellipse cx="545" cy="966.6" rx="3.1" ry="2.3"/><ellipse cx="545" cy="984.2" rx="3.1" ry="2.3"/><ellipse cx="545" cy="1001.8" rx="3.1" ry="2.3"/><ellipse cx="545" cy="1019.4" rx="3.1" ry="2.3"/><ellipse cx="545" cy="1036.9" rx="3.1" ry="2.3"/><ellipse cx="545" cy="1054.5" rx="3.1" ry="2.3"/><ellipse cx="545" cy="1072.1" rx="3.1" ry="2.3"/><ellipse cx="545" cy="1089.7" rx="3.1" ry="2.3"/><ellipse cx="545" cy="1107.3" rx="3.1" ry="2.3"/><ellipse cx="545" cy="1124.9" rx="3.1" ry="2.3"/><ellipse cx="545" cy="1142.5" rx="3.1" ry="2.3"/><ellipse cx="545" cy="1160.1" rx="3.1" ry="2.3"/><ellipse cx="545" cy="1177.6" rx="3.1" ry="2.3"/><ellipse cx="545" cy="1195.2" rx="3.1" ry="2.3"/><ellipse cx="545" cy="1212.8" rx="3.1" ry="2.3"/><ellipse cx="545" cy="1230.4" rx="3.1" ry="2.3"/><ellipse cx="545" cy="1248.0" rx="3.1" ry="2.3"/><ellipse cx="974.8" cy="564.4" rx="3.1" ry="2.3"/><ellipse cx="974.8" cy="581.9" rx="3.1" ry="2.3"/><ellipse cx="974.8" cy="599.5" rx="3.1" ry="2.3"/><ellipse cx="974.8" cy="617.0" rx="3.1" ry="2.3"/><ellipse cx="974.8" cy="634.5" rx="3.1" ry="2.3"/><ellipse cx="974.8" cy="652.1" rx="3.1" ry="2.3"/><ellipse cx="974.8" cy="669.6" rx="3.1" ry="2.3"/><ellipse cx="974.8" cy="687.2" rx="3.1" ry="2.3"/><ellipse cx="974.8" cy="704.7" rx="3.1" ry="2.3"/><ellipse cx="974.8" cy="722.2" rx="3.1" ry="2.3"/><ellipse cx="974.8" cy="739.8" rx="3.1" ry="2.3"/><ellipse cx="974.8" cy="757.3" rx="3.1" ry="2.3"/><ellipse cx="974.8" cy="774.7" rx="3.1" ry="2.3"/><ellipse cx="974.8" cy="792.2" rx="3.1" ry="2.3"/><ellipse cx="974.8" cy="809.6" rx="3.1" ry="2.3"/><ellipse cx="974.8" cy="827.0" rx="3.1" ry="2.3"/><ellipse cx="974.8" cy="844.4" rx="3.1" ry="2.3"/><ellipse cx="974.8" cy="861.9" rx="3.1" ry="2.3"/><ellipse cx="974.8" cy="879.3" rx="3.1" ry="2.3"/><ellipse cx="974.8" cy="896.7" rx="3.1" ry="2.3"/><ellipse cx="974.8" cy="914.1" rx="3.1" ry="2.3"/><ellipse cx="974.8" cy="931.6" rx="3.1" ry="2.3"/><ellipse cx="974.8" cy="949.0" rx="3.1" ry="2.3"/><ellipse cx="974.8" cy="966.6" rx="3.1" ry="2.3"/><ellipse cx="974.8" cy="984.2" rx="3.1" ry="2.3"/><ellipse cx="974.8" cy="1001.8" rx="3.1" ry="2.3"/><ellipse cx="974.8" cy="1019.4" rx="3.1" ry="2.3"/><ellipse cx="974.8" cy="1036.9" rx="3.1" ry="2.3"/><ellipse cx="974.8" cy="1054.5" rx="3.1" ry="2.3"/><ellipse cx="974.8" cy="1072.1" rx="3.1" ry="2.3"/><ellipse cx="974.8" cy="1089.7" rx="3.1" ry="2.3"/><ellipse cx="974.8" cy="1107.3" rx="3.1" ry="2.3"/><ellipse cx="974.8" cy="1124.9" rx="3.1" ry="2.3"/><ellipse cx="974.8" cy="1142.5" rx="3.1" ry="2.3"/><ellipse cx="974.8" cy="1160.1" rx="3.1" ry="2.3"/><ellipse cx="974.8" cy="1177.6" rx="3.1" ry="2.3"/><ellipse cx="974.8" cy="1195.2" rx="3.1" ry="2.3"/><ellipse cx="974.8" cy="1212.8" rx="3.1" ry="2.3"/><ellipse cx="974.8" cy="1230.4" rx="3.1" ry="2.3"/><ellipse cx="974.8" cy="1248.0" rx="3.1" ry="2.3"/><ellipse cx="1029.9" cy="558.4" rx="3.1" ry="2.3"/><ellipse cx="1029.9" cy="576.3" rx="3.1" ry="2.3"/><ellipse cx="1029.9" cy="594.3" rx="3.1" ry="2.3"/><ellipse cx="1029.9" cy="612.2" rx="3.1" ry="2.3"/><ellipse cx="1029.9" cy="630.1" rx="3.1" ry="2.3"/><ellipse cx="1029.9" cy="648.1" rx="3.1" ry="2.3"/><ellipse cx="1029.9" cy="666.0" rx="3.1" ry="2.3"/><ellipse cx="1029.9" cy="684.0" rx="3.1" ry="2.3"/><ellipse cx="1029.9" cy="701.9" rx="3.1" ry="2.3"/><ellipse cx="1029.9" cy="719.8" rx="3.1" ry="2.3"/><ellipse cx="1029.9" cy="737.8" rx="3.1" ry="2.3"/><ellipse cx="1029.9" cy="755.7" rx="3.1" ry="2.3"/><ellipse cx="1029.9" cy="773.3" rx="3.1" ry="2.3"/><ellipse cx="1029.9" cy="790.8" rx="3.1" ry="2.3"/><ellipse cx="1029.9" cy="808.4" rx="3.1" ry="2.3"/><ellipse cx="1029.9" cy="826.0" rx="3.1" ry="2.3"/><ellipse cx="1029.9" cy="843.6" rx="3.1" ry="2.3"/><ellipse cx="1029.9" cy="861.1" rx="3.1" ry="2.3"/><ellipse cx="1029.9" cy="878.7" rx="3.1" ry="2.3"/><ellipse cx="1029.9" cy="896.3" rx="3.1" ry="2.3"/><ellipse cx="1029.9" cy="913.9" rx="3.1" ry="2.3"/><ellipse cx="1029.9" cy="931.4" rx="3.1" ry="2.3"/><ellipse cx="1029.9" cy="949.0" rx="3.1" ry="2.3"/><ellipse cx="1029.9" cy="966.6" rx="3.1" ry="2.3"/><ellipse cx="1029.9" cy="984.1" rx="3.1" ry="2.3"/><ellipse cx="1029.9" cy="1001.7" rx="3.1" ry="2.3"/><ellipse cx="1029.9" cy="1019.2" rx="3.1" ry="2.3"/><ellipse cx="1029.9" cy="1036.8" rx="3.1" ry="2.3"/><ellipse cx="1029.9" cy="1054.4" rx="3.1" ry="2.3"/><ellipse cx="1029.9" cy="1071.9" rx="3.1" ry="2.3"/><ellipse cx="1029.9" cy="1089.5" rx="3.1" ry="2.3"/><ellipse cx="1029.9" cy="1107.0" rx="3.1" ry="2.3"/><ellipse cx="1029.9" cy="1124.6" rx="3.1" ry="2.3"/><ellipse cx="1029.9" cy="1142.1" rx="3.1" ry="2.3"/><ellipse cx="1029.9" cy="1159.7" rx="3.1" ry="2.3"/><ellipse cx="1029.9" cy="1177.3" rx="3.1" ry="2.3"/><ellipse cx="1029.9" cy="1194.8" rx="3.1" ry="2.3"/><ellipse cx="1029.9" cy="1212.4" rx="3.1" ry="2.3"/><ellipse cx="1029.9" cy="1229.9" rx="3.1" ry="2.3"/><ellipse cx="1029.9" cy="1247.5" rx="3.1" ry="2.3"/><circle cx="704.5" cy="1165.7" r="1.6"/><circle cx="722.2" cy="1165.7" r="1.6"/><circle cx="819.5" cy="1165.7" r="1.6"/><circle cx="828.1" cy="1165.7" r="1.6"/><circle cx="863.7" cy="1165.7" r="1.6"/><circle cx="881.4" cy="1165.7" r="1.6"/><circle cx="895" cy="1165.7" r="1.6"/><circle cx="614.5" cy="1241.2" r="1.6"/><circle cx="623.6" cy="1241.2" r="1.6"/><circle cx="636" cy="1241.2" r="1.6"/><circle cx="654" cy="1241.2" r="1.6"/><circle cx="689.3" cy="1241.2" r="1.6"/><circle cx="698.2" cy="1241.2" r="1.6"/><circle cx="795.2" cy="1241.2" r="1.6"/><circle cx="813.4" cy="1241.2" r="1.6"/><ellipse cx="397.3" cy="1291.5" rx="1.2" ry="2.4"/><ellipse cx="420.7" cy="1291.5" rx="1.8" ry="2.8"/><ellipse cx="436.6" cy="1291.5" rx="1.8" ry="2.8"/><ellipse cx="452.6" cy="1291.5" rx="1.8" ry="2.8"/><ellipse cx="468.5" cy="1291.5" rx="1.8" ry="2.8"/><ellipse cx="484.5" cy="1291.5" rx="1.8" ry="2.8"/><ellipse cx="500.4" cy="1291.5" rx="1.8" ry="2.8"/><ellipse cx="516.4" cy="1291.5" rx="1.8" ry="2.8"/><ellipse cx="532.4" cy="1291.5" rx="1.8" ry="2.8"/><ellipse cx="548.3" cy="1291.5" rx="1.8" ry="2.8"/><ellipse cx="564.2" cy="1291.5" rx="1.8" ry="2.8"/><ellipse cx="580.2" cy="1291.5" rx="1.8" ry="2.8"/><ellipse cx="596.1" cy="1291.5" rx="1.8" ry="2.8"/><ellipse cx="612.1" cy="1291.5" rx="1.8" ry="2.8"/><ellipse cx="628.0" cy="1291.5" rx="1.8" ry="2.8"/><ellipse cx="644.0" cy="1291.5" rx="1.8" ry="2.8"/><ellipse cx="660.0" cy="1291.5" rx="1.8" ry="2.8"/><ellipse cx="675.9" cy="1291.5" rx="1.8" ry="2.8"/><ellipse cx="691.8" cy="1291.5" rx="1.8" ry="2.8"/><ellipse cx="707.8" cy="1291.5" rx="1.8" ry="2.8"/><ellipse cx="723.8" cy="1291.5" rx="1.8" ry="2.8"/><ellipse cx="739.7" cy="1291.5" rx="1.8" ry="2.8"/><ellipse cx="755.6" cy="1291.5" rx="1.8" ry="2.8"/><ellipse cx="771.6" cy="1291.5" rx="1.8" ry="2.8"/><ellipse cx="787.5" cy="1291.5" rx="1.8" ry="2.8"/><ellipse cx="803.5" cy="1291.5" rx="1.8" ry="2.8"/><ellipse cx="819.5" cy="1291.5" rx="1.8" ry="2.8"/><ellipse cx="835.4" cy="1291.5" rx="1.8" ry="2.8"/><ellipse cx="851.3" cy="1291.5" rx="1.8" ry="2.8"/><ellipse cx="867.3" cy="1291.5" rx="1.8" ry="2.8"/><ellipse cx="883.2" cy="1291.5" rx="1.8" ry="2.8"/><ellipse cx="899.2" cy="1291.5" rx="1.8" ry="2.8"/><ellipse cx="915.1" cy="1291.5" rx="1.8" ry="2.8"/><ellipse cx="931.1" cy="1291.5" rx="1.8" ry="2.8"/><ellipse cx="947.0" cy="1291.5" rx="1.8" ry="2.8"/><ellipse cx="963.0" cy="1291.5" rx="1.8" ry="2.8"/><ellipse cx="979.0" cy="1291.5" rx="1.8" ry="2.8"/><ellipse cx="994.9" cy="1291.5" rx="1.8" ry="2.8"/><ellipse cx="1010.8" cy="1291.5" rx="1.8" ry="2.8"/><ellipse cx="1026.8" cy="1291.5" rx="1.8" ry="2.8"/><ellipse cx="1042.8" cy="1291.5" rx="1.8" ry="2.8"/><ellipse cx="1058.7" cy="1291.5" rx="1.8" ry="2.8"/></g>
<rect x="54.5" y="533.7" width="382.5" height="2" fill="#263b80"/>
<circle cx="437" cy="534.5" r="8.4" fill="#1247a8" stroke="#1c3576" stroke-width="1.3"/>
<rect x="54" y="623.4" width="433.5" height="2" fill="#263b80"/>
<circle cx="487.5" cy="624.4" r="8.4" fill="#1247a8" stroke="#1c3576" stroke-width="1.3"/>
<rect x="54" y="713" width="489" height="2" fill="#263b80"/>
<circle cx="543" cy="714" r="8.4" fill="#1247a8" stroke="#1c3576" stroke-width="1.3"/>
<rect x="54" y="807.6" width="554" height="2" fill="#263b80"/>
<circle cx="608.5" cy="807.5" r="8.4" fill="#1247a8" stroke="#1c3576" stroke-width="1.3"/>
<rect x="54" y="897.1" width="636.3" height="2" fill="#263b80"/>
<circle cx="690.3" cy="898" r="8.4" fill="#1247a8" stroke="#1c3576" stroke-width="1.3"/>
<rect x="646.7" y="548.3" width="161.29999999999995" height="2" fill="#263b80"/>
<rect x="645.8" y="549.3" width="2" height="103.70000000000005" fill="#263b80"/>
<circle cx="646.8" cy="653.2" r="8.4" fill="#1247a8" stroke="#1c3576" stroke-width="1.3"/>
<rect x="688.4" y="657.75" width="161.60000000000002" height="2" fill="#263b80"/>
<rect x="687.4" y="658.75" width="2" height="55.25" fill="#263b80"/>
<circle cx="688.4" cy="713.9" r="8.4" fill="#1247a8" stroke="#1c3576" stroke-width="1.3"/>
<rect x="788.8" y="727.3" width="654.9000000000001" height="2" fill="#263b80"/>
<circle cx="788.8" cy="728.1" r="8.4" fill="#1247a8" stroke="#1c3576" stroke-width="1.3"/>
<rect x="788.8" y="987.5" width="654.9000000000001" height="2" fill="#263b80"/>
<circle cx="788.8" cy="988.7" r="8.4" fill="#1247a8" stroke="#1c3576" stroke-width="1.3"/>
<rect x="832.5" y="1093.6" width="611.0999999999999" height="2" fill="#263b80"/>
<circle cx="832.5" cy="1094.8" r="8.4" fill="#1247a8" stroke="#1c3576" stroke-width="1.3"/>
<rect x="902.8" y="1170.2" width="540.8" height="2" fill="#263b80"/>
<circle cx="902.8" cy="1171" r="8.4" fill="#1247a8" stroke="#1c3576" stroke-width="1.3"/>
<rect x="1084" y="1291.2" width="361" height="2" fill="#263b80"/>
<circle cx="1084" cy="1292" r="8.4" fill="#1247a8" stroke="#1c3576" stroke-width="1.3"/>
<rect x="751.2" y="1344.5" width="2" height="67.5" fill="#263b80"/>
<circle cx="752" cy="1344.5" r="8.4" fill="#1247a8" stroke="#1c3576" stroke-width="1.3"/>
<text x="53.5" y="525" font-family="Liberation Sans" font-size="30" fill="#000" stroke="#000" stroke-width="1.0" textLength="277" lengthAdjust="spacingAndGlyphs">Bottom Vertical Bar</text>
<text x="339.7" y="524.9" font-family="Liberation Sans" font-weight="bold" font-size="44.0" fill="#1a4aa8" stroke="#1a4aa8" stroke-width="0.9" stroke-linejoin="round" textLength="47.2" lengthAdjust="spacingAndGlyphs">x2</text>
<text x="56.5" y="607.7" font-family="Liberation Sans" font-size="30" fill="#000" stroke="#000" stroke-width="1.0" textLength="312" lengthAdjust="spacingAndGlyphs">Bottom Horizontal Bar</text>
<text x="380.4" y="607.6" font-family="Liberation Sans" font-weight="bold" font-size="44.0" fill="#1a4aa8" stroke="#1a4aa8" stroke-width="0.9" stroke-linejoin="round" textLength="48.2" lengthAdjust="spacingAndGlyphs">x2</text>
<text x="58" y="697.4" font-family="Liberation Sans" font-size="30" fill="#000" stroke="#000" stroke-width="1.0" textLength="226" lengthAdjust="spacingAndGlyphs">Top Vertical Bar</text>
<text x="292.7" y="697.3" font-family="Liberation Sans" font-weight="bold" font-size="44.0" fill="#1a4aa8" stroke="#1a4aa8" stroke-width="0.9" stroke-linejoin="round" textLength="48.2" lengthAdjust="spacingAndGlyphs">x2</text>
<text x="56.5" y="791.9" font-family="Liberation Sans" font-size="30" fill="#000" stroke="#000" stroke-width="1.0" textLength="47" lengthAdjust="spacingAndGlyphs">Pin</text>
<text x="113.7" y="791.8" font-family="Liberation Sans" font-weight="bold" font-size="44.0" fill="#1a4aa8" stroke="#1a4aa8" stroke-width="0.9" stroke-linejoin="round" textLength="46.2" lengthAdjust="spacingAndGlyphs">x5</text>
<text x="56.5" y="881.5" font-family="Liberation Sans" font-size="30" fill="#000" stroke="#000" stroke-width="1.0" textLength="76" lengthAdjust="spacingAndGlyphs">Hook</text>
<text x="140.2" y="881.4" font-family="Liberation Sans" font-weight="bold" font-size="44.0" fill="#1a4aa8" stroke="#1a4aa8" stroke-width="0.9" stroke-linejoin="round" textLength="46.2" lengthAdjust="spacingAndGlyphs">x5</text>
<text x="1264" y="711.9" font-family="Liberation Sans" font-size="30" fill="#000" stroke="#000" stroke-width="1.0" textLength="122" lengthAdjust="spacingAndGlyphs">Spanner</text>
<text x="1393.2" y="711.8" font-family="Liberation Sans" font-weight="bold" font-size="44.0" fill="#1a4aa8" stroke="#1a4aa8" stroke-width="0.9" stroke-linejoin="round" textLength="43.2" lengthAdjust="spacingAndGlyphs">x1</text>
<text x="1235" y="971.8" font-family="Liberation Sans" font-size="30" fill="#000" stroke="#000" stroke-width="1.0" textLength="150" lengthAdjust="spacingAndGlyphs">Connector</text>
<text x="1393.2" y="971.6999999999999" font-family="Liberation Sans" font-weight="bold" font-size="44.0" fill="#1a4aa8" stroke="#1a4aa8" stroke-width="0.9" stroke-linejoin="round" textLength="47.2" lengthAdjust="spacingAndGlyphs">x8</text>
<text x="1213" y="1078.3" font-family="Liberation Sans" font-size="30" fill="#000" stroke="#000" stroke-width="1.0" textLength="172" lengthAdjust="spacingAndGlyphs">Support Bar</text>
<text x="1394.2" y="1078.2" font-family="Liberation Sans" font-weight="bold" font-size="44.0" fill="#1a4aa8" stroke="#1a4aa8" stroke-width="0.9" stroke-linejoin="round" textLength="47.2" lengthAdjust="spacingAndGlyphs">x2</text>
<text x="1256" y="1155" font-family="Liberation Sans" font-size="30" fill="#000" stroke="#000" stroke-width="1.0" textLength="128" lengthAdjust="spacingAndGlyphs">Base Bar</text>
<text x="1394.2" y="1154.9" font-family="Liberation Sans" font-weight="bold" font-size="44.0" fill="#1a4aa8" stroke="#1a4aa8" stroke-width="0.9" stroke-linejoin="round" textLength="48.2" lengthAdjust="spacingAndGlyphs">x2</text>
<text x="1298" y="1275.5" font-family="Liberation Sans" font-size="30" fill="#000" stroke="#000" stroke-width="1.0" textLength="113.5" lengthAdjust="spacingAndGlyphs">Top Bar</text>
<text x="1418.7" y="1275.4" font-family="Liberation Sans" font-weight="bold" font-size="44.0" fill="#1a4aa8" stroke="#1a4aa8" stroke-width="0.9" stroke-linejoin="round" textLength="42.2" lengthAdjust="spacingAndGlyphs">x1</text>
<text x="692" y="1444.2" font-family="Liberation Sans" font-size="30" fill="#000" stroke="#000" stroke-width="1.0" textLength="78" lengthAdjust="spacingAndGlyphs">U Bar</text>
<text x="779.7" y="1444.1000000000001" font-family="Liberation Sans" font-weight="bold" font-size="44.0" fill="#1a4aa8" stroke="#1a4aa8" stroke-width="0.9" stroke-linejoin="round" textLength="42.2" lengthAdjust="spacingAndGlyphs">x1</text>
<text x="666" y="480" font-family="Liberation Sans" font-size="29" fill="#000" stroke="#000" stroke-width="1.0" textLength="131" lengthAdjust="spacingAndGlyphs">BOLT M8</text>
<text x="658.5" y="522.7" font-family="Liberation Sans" font-size="29" fill="#1a4aa8" stroke="#1a4aa8" stroke-width="1.25" textLength="88.5" lengthAdjust="spacingAndGlyphs">70mm</text>
<text x="755.4" y="522.9" font-family="Liberation Sans" font-weight="bold" font-size="44" fill="#1a4aa8" stroke="#1a4aa8" stroke-width="0.9" stroke-linejoin="round" textLength="47.2" lengthAdjust="spacingAndGlyphs">x5</text>
<text x="700.5" y="597.7" font-family="Liberation Sans" font-size="29" fill="#000" stroke="#000" stroke-width="1.0" textLength="131" lengthAdjust="spacingAndGlyphs">BOLT M8</text>
<text x="693.0" y="640.4000000000001" font-family="Liberation Sans" font-size="29" fill="#1a4aa8" stroke="#1a4aa8" stroke-width="1.25" textLength="88.5" lengthAdjust="spacingAndGlyphs">70mm</text>
<text x="789.9" y="640.6" font-family="Liberation Sans" font-weight="bold" font-size="44" fill="#1a4aa8" stroke="#1a4aa8" stroke-width="0.9" stroke-linejoin="round" textLength="47.2" lengthAdjust="spacingAndGlyphs">x5</text>
</svg>
</body></html>
